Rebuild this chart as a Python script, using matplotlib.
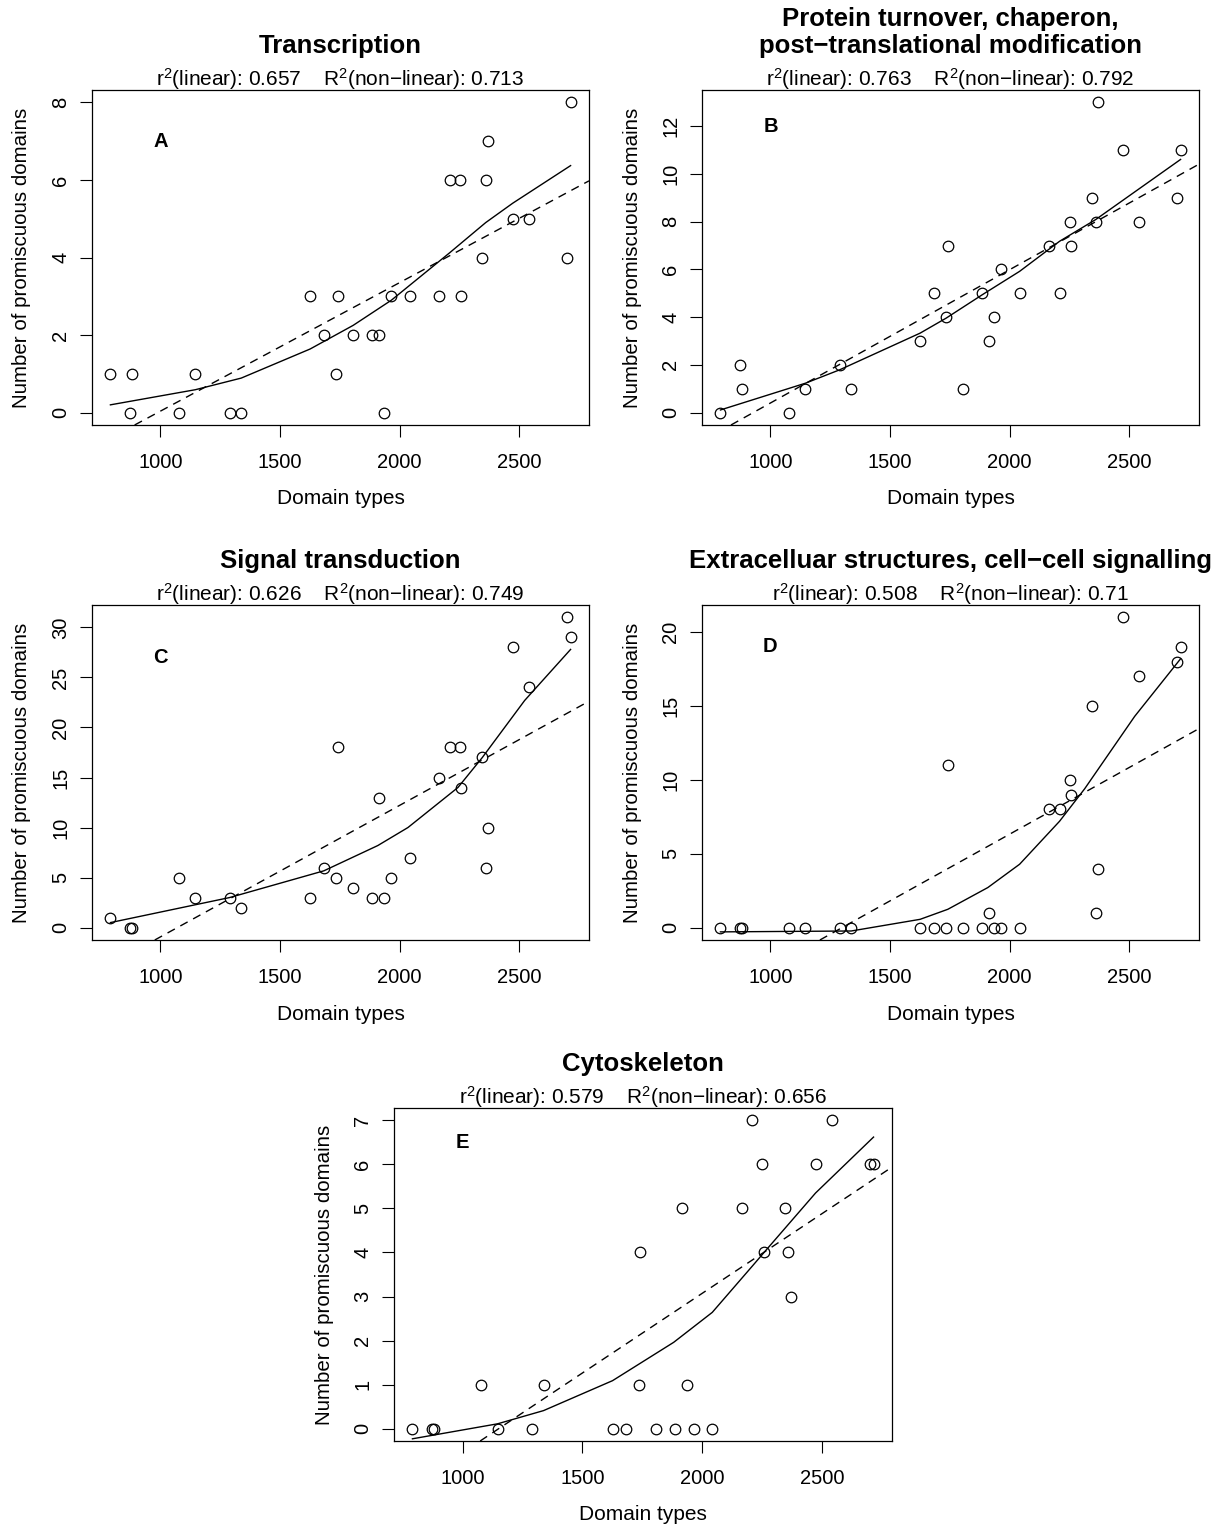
"""Promiscuous domains vs. number of domain types, five functional categories.

Open circles = genomes, dashed = linear fit, solid = non-linear fit.
"""
import numpy as np
import matplotlib

matplotlib.use("Agg")
import matplotlib.pyplot as plt

plt.rcParams["font.family"] = ["Liberation Sans", "DejaVu Sans"]
plt.rcParams["mathtext.fontset"] = "custom"
plt.rcParams["mathtext.rm"] = "Liberation Sans"
plt.rcParams["mathtext.it"] = "Liberation Sans:italic"

# --------------------------------------------------------------------------- #
# Data
# --------------------------------------------------------------------------- #
domain_types = [791, 874, 880, 1077, 1146, 1289, 1338, 1626, 1683, 1735,
                1742, 1806, 1886, 1915, 1936, 1966, 2042, 2165, 2209, 2251,
                2258, 2346, 2360, 2371, 2473, 2543, 2700, 2715]

transcription = [1, 0, 1, 0, 1, 0, 0, 3, 2, 1, 3, 2, 2, 2, 0, 3, 3, 3, 6, 6,
                 3, 4, 6, 7, 5, 5, 4, 8]
protein_turnover = [0, 2, 1, 0, 1, 2, 1, 3, 5, 4, 7, 1, 5, 3, 4, 6, 5, 7, 5, 8,
                    7, 9, 8, 13, 11, 8, 9, 11]
signal_transduction = [1, 0, 0, 5, 3, 3, 2, 3, 6, 5, 18, 4, 3, 13, 3, 5, 7, 15,
                       18, 18, 14, 17, 6, 10, 28, 24, 31, 29]
extracellular = [0, 0, 0, 0, 0, 0, 0, 0, 0, 0, 11, 0, 0, 1, 0, 0, 0, 8, 8, 10,
                 9, 15, 1, 4, 21, 17, 18, 19]
cytoskeleton = [0, 0, 0, 1, 0, 0, 1, 0, 0, 1, 4, 0, 0, 5, 1, 0, 0, 5, 7, 6,
                4, 5, 4, 3, 6, 7, 6, 6]

# non-linear fit curves (vertices)
fit_x_a = [791, 1146, 1338, 1626, 1806, 1966, 2209, 2360, 2473, 2715]
fit_y_a = [0.20, 0.59, 0.89, 1.64, 2.25, 2.90, 4.12, 4.90, 5.40, 6.37]
fit_x_b = [791, 1146, 1289, 1626, 1735, 1886, 2042, 2209, 2360, 2715]
fit_y_b = [0.11, 1.23, 1.79, 3.33, 3.96, 4.94, 5.92, 7.18, 8.09, 10.61]
fit_x_c = [791, 1289, 1683, 1909, 2035, 2244, 2346, 2523, 2715]
fit_y_c = [0.5, 3.0, 5.67, 8.2, 10.0, 14.0, 17.0, 22.7, 27.8]
fit_x_d = [791, 1338, 1626, 1742, 1909, 2042, 2209, 2314, 2523, 2715]
fit_y_d = [-0.29, -0.23, 0.56, 1.24, 2.71, 4.29, 7.2, 9.4, 14.3, 18.2]
fit_x_e = [791, 1146, 1338, 1626, 1881, 2042, 2209, 2258, 2473, 2715]
fit_y_e = [-0.23, 0.11, 0.41, 1.09, 1.96, 2.64, 3.69, 4.0, 5.35, 6.62]

titles = [
    ["Transcription"],
    ["Protein turnover, chaperon,", "post\u2212translational modification"],
    ["Signal transduction"],
    ["Extracelluar structures, cell\u2212cell signalling"],
    ["Cytoskeleton"],
]
r2_linear = ["0.657", "0.763", "0.626", "0.508", "0.579"]
r2_nonlinear = ["0.713", "0.792", "0.749", "0.71", "0.656"]
letters = ["A", "B", "C", "D", "E"]
letter_y = [7, 12, 27, 19, 6.5]       # panel letters sit at x = 1000
y_ticks = [np.arange(0, 9, 2), np.arange(0, 13, 2), np.arange(0, 31, 5),
           np.arange(0, 21, 5), np.arange(0, 8, 1)]
x_ticks = [1000, 1500, 2000, 2500]

series = [transcription, protein_turnover, signal_transduction,
          extracellular, cytoskeleton]
fits = [(fit_x_a, fit_y_a), (fit_x_b, fit_y_b), (fit_x_c, fit_y_c),
        (fit_x_d, fit_y_d), (fit_x_e, fit_y_e)]

# --------------------------------------------------------------------------- #
# Layout (pixel boxes: left, top, right, bottom)
# --------------------------------------------------------------------------- #
W, H = 1216, 1529
boxes = [(92, 90, 589, 425), (702, 90, 1199, 425),
         (92, 605, 589, 940), (702, 605, 1199, 940),
         (394, 1108, 892, 1441)]
PT = 0.72                      # points per pixel at dpi 100
MINUS = "\u2212"


def r_range(vals):
    lo, hi = min(vals), max(vals)
    pad = 0.04 * (hi - lo)
    return lo - pad, hi + pad


fig = plt.figure(figsize=(W / 100, H / 100), dpi=100)

for i, y in enumerate(series):
    l, t, r, b = boxes[i]
    ax = fig.add_axes([l / W, 1 - b / H, (r - l) / W, (b - t) / H])

    x = np.asarray(domain_types, dtype=float)
    yv = np.asarray(y, dtype=float)

    ax.plot(x, yv, "o", ms=7.6, mfc="none", mec="black", mew=0.9)

    slope, intercept = np.polyfit(x, yv, 1)
    ax.axline((0, intercept), slope=slope, color="black", lw=1.0,
              dashes=(6, 4.5))
    ax.plot(fits[i][0], fits[i][1], color="black", lw=1.0)

    ax.set_xlim(*r_range(domain_types))
    ax.set_ylim(*r_range(y))
    ax.set_xticks(x_ticks)
    ax.set_yticks(y_ticks[i])
    ax.tick_params(direction="out", length=8.5, width=0.8, labelsize=14.5)
    ax.tick_params(axis="x", pad=12)
    ax.tick_params(axis="y", pad=7)
    plt.setp(ax.get_yticklabels(), rotation=90, va="center")
    for sp in ax.spines.values():
        sp.set_linewidth(0.9)

    ax.text(1000, letter_y[i], letters[i], fontsize=14.5, fontweight="bold",
            ha="center", va="center")

    # x / y labels
    ax.annotate("Domain types", xy=(0.5, 0), xycoords="axes fraction",
                xytext=(0, -74 * PT), textcoords="offset points",
                ha="center", va="center", fontsize=15)
    ax.annotate("Number of promiscuous domains", xy=(0, 0.5),
                xycoords="axes fraction", xytext=(-70 * PT, 0),
                textcoords="offset points", ha="center", va="center",
                rotation=90, fontsize=14.8)

    # titles
    sub = ("r$^{\\mathrm{2}}$(linear): " + r2_linear[i] + "    "
           + "R$^{\\mathrm{2}}$(non" + MINUS + "linear): " + r2_nonlinear[i])
    ax.annotate(sub, xy=(0.5, 1), xycoords="axes fraction",
                xytext=(0, 4 * PT), textcoords="offset points",
                ha="center", va="baseline", fontsize=15)
    lines = titles[i]
    for k, line in enumerate(reversed(lines)):
        ax.annotate(line, xy=(0.5, 1), xycoords="axes fraction",
                    xytext=(0, (37 + 27 * k) * PT), textcoords="offset points",
                    ha="center", va="baseline", fontsize=18.5,
                    fontweight="bold")

fig.savefig("out.png", dpi=100)
